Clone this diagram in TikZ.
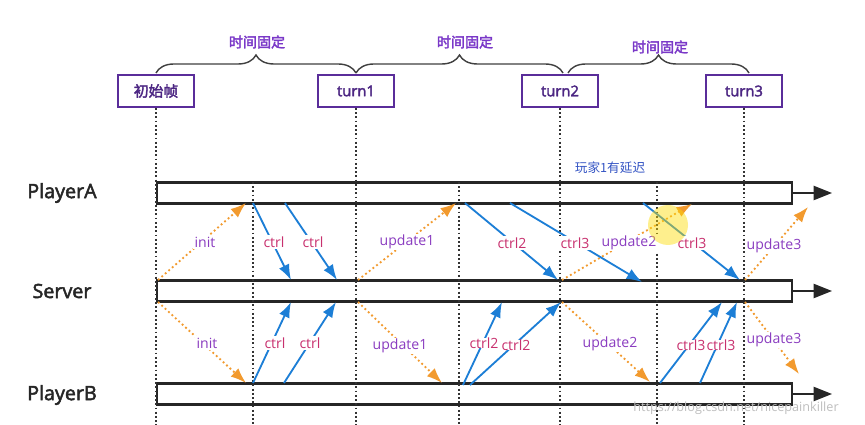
\documentclass[tikz,border=0pt]{standalone}
\usepackage{fontspec}
\setmainfont{Open Sans}[AutoFakeBold=2.5]
\newfontfamily\cjk{Noto Sans CJK SC}[AutoFakeBold=2.5]
\usetikzlibrary{arrows.meta,decorations.pathreplacing}
\definecolor{boxpurple}{HTML}{5A2D9A}
\definecolor{txtpurple}{HTML}{7A38C8}
\definecolor{ctrlred}{HTML}{C8306E}
\definecolor{updpurple}{HTML}{8A3CC0}
\definecolor{arrblue}{HTML}{1C7ED6}
\definecolor{arrorange}{HTML}{F29A2E}
\definecolor{noteblue}{HTML}{3454C4}
\tikzset{
  turnbox/.style={draw=boxpurple,line width=1.4pt,minimum width=76*0.025cm,minimum height=32*0.025cm,inner sep=0pt,font=\bfseries\fontsize{10.5}{12}\selectfont,text=boxpurple!85!black},
  bar/.style={draw=black!85,line width=1.6pt,fill=white,minimum height=21*0.025cm,inner sep=0pt},
  actor/.style={font=\bfseries\fontsize{14}{16}\selectfont,text=black!85},
  vdot/.style={line width=1.3pt,dash pattern=on 1.3pt off 1.7pt,black!80},
  fixlbl/.style={font=\cjk\bfseries\normalsize,text=txtpurple},
  bracestyle/.style={draw=black!75,line width=1pt,decorate,decoration={brace,amplitude=0.45cm}},
  ctrlarr/.style={draw=arrblue,line width=1.3pt,-{Latex[length=11pt,width=8pt]}},
  updarr/.style={draw=arrorange,line width=1.3pt,dotted,-{Latex[length=11pt,width=8pt]}},
  ctrllbl/.style={font=\normalsize,text=ctrlred,fill=white,inner sep=1pt},
  updlbl/.style={font=\normalsize,text=updpurple,fill=white,inner sep=1pt},
  bigarr/.style={draw=black!85,line width=1.4pt,-{Triangle[length=13pt,width=10pt]}}
}
\begin{document}
\begin{tikzpicture}[x=0.025cm,y=-0.025cm]
\useasboundingbox (0,0) rectangle (865,425);
\fill[white] (0,0) rectangle (865,425);

% top boxes
\node[turnbox] (t0) at (156,91) {\cjk\bfseries 初始帧};
\node[turnbox] (t1) at (356,91) {turn1};
\node[turnbox] (t2) at (560,91) {turn2};
\node[turnbox] (t3) at (744,91) {turn3};

% braces
\draw[bracestyle] (156,73) -- (356,73);
\draw[bracestyle] (356,73) -- (563,73);
\draw[bracestyle] (568,73) -- (749,73);
\node[fixlbl] (f1) at (257,42) {时间固定};
\node[fixlbl] (f2) at (465,42) {时间固定};
\node[fixlbl] (f3) at (660,47) {时间固定};

% bars
\node[bar,minimum width=635*0.025cm,anchor=west] (barA) at (156,193) {};
\node[bar,minimum width=635*0.025cm,anchor=west] (barS) at (156,291) {};
\node[bar,minimum width=635*0.025cm,anchor=west] (barB) at (156,394) {};
\coordinate (endA) at (832,193);
\coordinate (endS) at (832,291);
\coordinate (endB) at (832,394);
\draw[bigarr] (barA.east) -- (endA);
\draw[bigarr] (barS.east) -- (endS);
\draw[bigarr] (barB.east) -- (endB);

% actor labels
\node[actor] (pa) at (62,193) {PlayerA};
\node[actor] (sv) at (62,291) {Server};
\node[actor] (pb) at (62,395) {PlayerB};

% dotted vertical lines
\coordinate (d0) at (156,425);
\coordinate (d1) at (356,425);
\coordinate (d2) at (560,425);
\coordinate (d3) at (744,425);
\draw[vdot] (t0.south) -- (d0);
\draw[vdot] (t1.south) -- (d1);
\draw[vdot] (t2.south) -- (d2);
\draw[vdot] (t3.south) -- (d3);
\coordinate (e1a) at (253,182); \coordinate (e1b) at (253,425);
\coordinate (e2a) at (459,182); \coordinate (e2b) at (459,425);
\coordinate (e3a) at (657,182); \coordinate (e3b) at (657,425);
\draw[vdot] (e1a) -- (e1b);
\draw[vdot] (e2a) -- (e2b);
\draw[vdot] (e3a) -- (e3b);

% note
\node[font=\cjk\fontsize{9}{11}\selectfont,text=noteblue] (note) at (610,168) {玩家1有延迟};

% orange update arrows
\coordinate (iA0) at (158,280); \coordinate (iA1) at (246,203);
\coordinate (iB0) at (158,302); \coordinate (iB1) at (246,383);
\coordinate (uA0) at (358,280); \coordinate (uA1) at (456,203);
\coordinate (uB0) at (358,302); \coordinate (uB1) at (442,383);
\coordinate (vA0) at (562,280); \coordinate (vA1) at (692,204);
\coordinate (vB0) at (562,302); \coordinate (vB1) at (650,382);
\coordinate (wA0) at (745,280); \coordinate (wA1) at (808,207);
\coordinate (wB0) at (745,302); \coordinate (wB1) at (799,374);
\draw[updarr] (iA0) -- (iA1);
\draw[updarr] (iB0) -- (iB1);
\draw[updarr] (uA0) -- (uA1);
\draw[updarr] (uB0) -- (uB1);
\draw[updarr] (vA0) -- (vA1);
\draw[updarr] (vB0) -- (vB1);
\draw[updarr] (wA0) -- (wA1);
\draw[updarr] (wB0) -- (wB1);

% blue ctrl arrows
\coordinate (a1s) at (253,203); \coordinate (a1e) at (291,280);
\coordinate (a2s) at (285,203); \coordinate (a2e) at (337,280);
\coordinate (b1s) at (253,383); \coordinate (b1e) at (291,302);
\coordinate (b2s) at (284,383); \coordinate (b2e) at (336,302);
\coordinate (a3s) at (465,203); \coordinate (a3e) at (558,280);
\coordinate (a4s) at (510,203); \coordinate (a4e) at (642,282);
\coordinate (a5s) at (643,203); \coordinate (a5e) at (740,280);
\coordinate (b3s) at (463,385); \coordinate (b3e) at (502,302);
\coordinate (b4s) at (470,385); \coordinate (b4e) at (561,302);
\coordinate (b5s) at (660,383); \coordinate (b5e) at (722,302);
\coordinate (b6s) at (700,383); \coordinate (b6e) at (737,302);
\draw[ctrlarr] (a1s) -- (a1e);
\draw[ctrlarr] (a2s) -- (a2e);
\draw[ctrlarr] (b1s) -- (b1e);
\draw[ctrlarr] (b2s) -- (b2e);
\draw[ctrlarr] (a3s) -- (a3e);
\draw[ctrlarr] (a4s) -- (a4e);
\draw[ctrlarr] (a5s) -- (a5e);
\draw[ctrlarr] (b3s) -- (b3e);
\draw[ctrlarr] (b4s) -- (b4e);
\draw[ctrlarr] (b5s) -- (b5e);
\draw[ctrlarr] (b6s) -- (b6e);

% labels upper
\node[updlbl] (l1) at (205,242) {init};
\node[ctrllbl] (l2) at (274,242) {ctrl};
\node[ctrllbl] (l3) at (313,242) {ctrl};
\node[updlbl] (l4) at (407,242) {update1};
\node[ctrllbl] (l5) at (512,243) {ctrl2};
\node[ctrllbl] (l6) at (575,243) {ctrl3};
\node[updlbl] (l7) at (629,243) {update2};
\node[ctrllbl] (l8) at (692,243) {ctrl3};
\node[updlbl] (l9) at (774,246) {update3};
% labels lower
\node[updlbl] (m1) at (207,343) {init};
\node[ctrllbl] (m2) at (275,343) {ctrl};
\node[ctrllbl] (m3) at (310,343) {ctrl};
\node[updlbl] (m4) at (400,346) {update1};
\node[ctrllbl,inner sep=0pt] (m5) at (484,343) {ctrl2};
\node[ctrllbl,inner sep=0pt] (m6) at (516,345) {ctrl2};
\node[updlbl] (m7) at (610,344) {update2};
\node[ctrllbl,inner sep=0pt] (m8) at (691,345) {ctrl3};
\node[ctrllbl,inner sep=0pt] (m9) at (721,345) {ctrl3};
\node[updlbl] (m10) at (774,340) {update3};

% cursor highlight
\fill[yellow!80!orange,opacity=0.45] (668,225) circle (20);

% watermark
\node[font=\small,text=black!25] (wm) at (736,408) {https://blog.csdn.net/nicepainkiller};
\end{tikzpicture}
\end{document}
